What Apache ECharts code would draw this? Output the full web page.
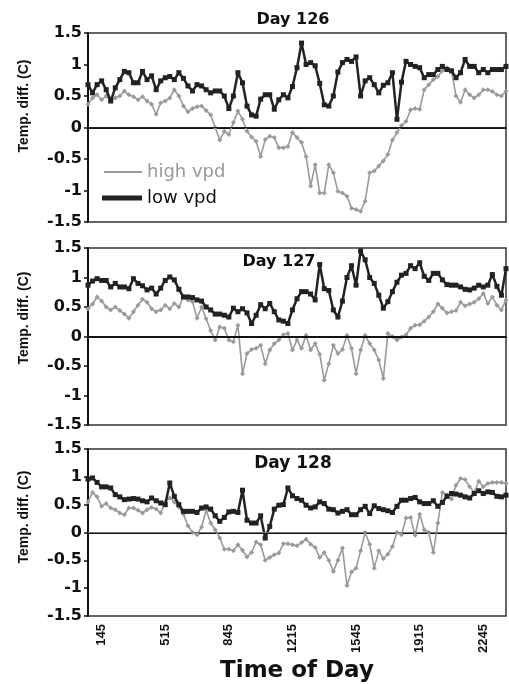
<!DOCTYPE html>
<html>
<head>
<meta charset="utf-8">
<script src="https://cdn.jsdelivr.net/npm/echarts@6/dist/echarts.min.js"></script>
<style>html,body{margin:0;padding:0;background:#fff}#c{width:509px;height:684px}</style>
</head>
<body>
<div id="c"></div>
<script>
var timeCats = ["100","115","130","145","200","215","230","245","300","315","330","345","400","415","430","445","500","515","530","545","600","615","630","645","700","715","730","745","800","815","830","845","900","915","930","945","1000","1015","1030","1045","1100","1115","1130","1145","1200","1215","1230","1245","1300","1315","1330","1345","1400","1415","1430","1445","1500","1515","1530","1545","1600","1615","1630","1645","1700","1715","1730","1745","1800","1815","1830","1845","1900","1915","1930","1945","2000","2015","2030","2045","2100","2115","2130","2145","2200","2215","2230","2245","2300","2315","2330","2345","2400"];
var tickLabels = ["145","515","845","1215","1545","1915","2245"];
var dayTitles = ["Day 126","Day 127","Day 128"];

var day126Low = [0.68,0.55,0.68,0.74,0.6,0.42,0.63,0.76,0.89,0.87,
0.71,0.71,0.89,0.76,0.82,0.6,0.74,0.79,0.81,0.76,
0.87,0.78,0.66,0.58,0.68,0.66,0.6,0.55,0.58,0.58,
0.5,0.3,0.5,0.87,0.71,0.34,0.2,0.18,0.45,0.52,
0.52,0.29,0.44,0.52,0.47,0.65,0.95,1.34,1.0,1.03,
0.98,0.7,0.36,0.34,0.5,0.88,1.03,1.08,1.05,1.12,
0.5,0.74,0.79,0.68,0.55,0.67,0.71,0.87,0.13,0.72,
1.05,1.0,0.97,0.95,0.79,0.84,0.84,0.92,0.97,0.92,
0.9,0.79,0.87,1.08,0.97,0.97,0.87,0.92,0.87,0.92,
0.92,0.92,0.97];
var day126High = [0.37,0.47,0.52,0.44,0.5,0.42,0.47,0.5,0.58,0.52,
0.49,0.44,0.49,0.42,0.37,0.21,0.39,0.42,0.47,0.6,
0.5,0.34,0.25,0.3,0.33,0.34,0.27,0.2,0.0,-0.2,
-0.06,-0.11,0.08,0.26,0.13,-0.06,-0.15,-0.22,-0.46,-0.19,
-0.14,-0.16,-0.32,-0.32,-0.3,-0.08,-0.16,-0.24,-0.46,-0.93,
-0.59,-1.04,-1.04,-0.59,-0.72,-1.01,-1.04,-1.09,-1.28,-1.3,
-1.33,-1.17,-0.72,-0.69,-0.61,-0.53,-0.43,-0.2,-0.08,0.03,
0.1,0.28,0.3,0.29,0.6,0.68,0.76,0.81,0.9,0.95,
0.9,0.5,0.4,0.6,0.52,0.47,0.52,0.6,0.6,0.57,
0.52,0.5,0.58];
var day127Low = [0.87,0.94,0.98,0.95,0.95,0.84,0.9,0.84,0.84,0.81,
0.98,0.9,0.86,0.79,0.82,0.72,0.82,0.95,1.01,0.96,
0.8,0.67,0.67,0.66,0.62,0.6,0.5,0.45,0.38,0.38,
0.36,0.33,0.48,0.42,0.47,0.4,0.22,0.36,0.54,0.47,
0.56,0.42,0.28,0.26,0.22,0.45,0.64,0.76,0.76,0.72,
0.62,1.22,0.81,0.78,0.45,0.33,0.6,1.0,1.2,0.87,
1.45,1.3,1.0,0.9,0.7,0.48,0.59,0.76,0.92,1.04,
1.07,1.2,1.15,1.25,1.02,0.95,1.07,1.07,0.96,0.88,
0.87,0.87,0.84,0.8,0.79,0.82,0.87,0.84,0.87,1.05,
0.85,0.7,1.15];
var day127High = [0.47,0.55,0.67,0.6,0.5,0.45,0.5,0.44,0.38,0.31,
0.42,0.53,0.63,0.58,0.47,0.42,0.45,0.53,0.47,0.56,
0.5,0.67,0.62,0.59,0.31,0.5,0.3,0.1,-0.06,0.16,
0.14,-0.06,-0.09,0.19,-0.63,-0.29,-0.22,-0.2,-0.15,-0.46,
-0.23,-0.12,-0.06,0.03,0.05,-0.23,-0.06,-0.2,0.02,-0.23,
-0.12,-0.3,-0.74,-0.46,-0.15,-0.29,-0.22,0.02,-0.2,-0.63,
-0.23,0.02,-0.12,-0.23,-0.4,-0.71,0.05,0.0,-0.06,-0.01,
0.03,0.14,0.19,0.2,0.26,0.33,0.42,0.55,0.48,0.4,
0.42,0.44,0.58,0.52,0.55,0.58,0.64,0.73,0.56,0.67,
0.53,0.45,0.62];
var day128Low = [0.96,0.98,0.9,0.82,0.82,0.8,0.68,0.64,0.59,0.6,
0.61,0.6,0.57,0.55,0.62,0.57,0.53,0.5,0.89,0.65,
0.5,0.38,0.38,0.38,0.36,0.44,0.46,0.42,0.3,0.2,
0.27,0.37,0.38,0.36,0.76,0.22,0.17,0.17,0.3,-0.1,
0.11,0.42,0.49,0.5,0.8,0.66,0.61,0.58,0.49,0.44,
0.46,0.55,0.52,0.42,0.41,0.35,0.38,0.41,0.32,0.32,
0.41,0.47,0.34,0.48,0.43,0.41,0.39,0.36,0.47,0.58,
0.58,0.61,0.63,0.55,0.52,0.52,0.57,0.47,0.54,0.65,
0.7,0.69,0.67,0.64,0.62,0.7,0.75,0.7,0.73,0.72,
0.65,0.64,0.67];
var day128High = [0.55,0.72,0.64,0.47,0.52,0.44,0.41,0.35,0.32,0.44,
0.44,0.4,0.35,0.41,0.45,0.42,0.35,0.55,0.62,0.55,
0.46,0.33,0.12,0.0,-0.04,0.1,0.4,0.17,0.05,-0.1,
-0.3,-0.3,-0.33,-0.22,-0.32,-0.44,-0.36,-0.17,-0.22,-0.5,
-0.45,-0.4,-0.37,-0.2,-0.2,-0.22,-0.24,-0.18,-0.12,-0.21,
-0.27,-0.45,-0.36,-0.5,-0.7,-0.5,-0.28,-0.95,-0.71,-0.64,
-0.33,0.0,-0.21,-0.64,-0.33,-0.47,-0.39,-0.25,0.0,-0.04,
0.26,0.27,-0.05,0.33,0.05,0.0,-0.36,0.17,0.72,0.68,
0.6,0.85,0.97,0.95,0.82,0.72,0.92,0.82,0.88,0.9,
0.9,0.9,0.88];

var lowSets = [day126Low, day127Low, day128Low];
var highSets = [day126High, day127High, day128High];

var chart = echarts.init(document.getElementById('c'), null, {renderer:'canvas'});
var grids = [
  {left:88, width:418, top:33, height:189},
  {left:88, width:418, top:248, height:177},
  {left:88, width:418, top:449, height:169}
];
var zeroStyles = [
  {color:'#222', width:1},
  {color:'#111', width:2},
  {color:'#777', width:1}
];
var titlePos = [[293,20,16],[279,262,16],[293,464,17]];
var namePos = [106,318,517];

var xAxes = [], yAxes = [], series = [], graphics = [];
for (var k = 0; k < 3; k++) {
  grids[k].show = true;
  grids[k].borderColor = '#333';
  grids[k].borderWidth = 1.5;
  var xa = {
    type:'category', gridIndex:k, data:timeCats, boundaryGap:false,
    axisLine:{show:true, lineStyle:{color:'#111', width:2}},
    axisTick:{show:false},
    splitLine:{show:false},
    axisLabel:{show:k===2, rotate:90, margin:8,
      interval:function(i, v){ return tickLabels.indexOf(v) >= 0; },
      fontFamily:'Liberation Sans', fontWeight:'bold', fontSize:13, color:'#111'}
  };
  if (k === 2) {
    xa.name = 'Time of Day';
    xa.nameLocation = 'middle';
    xa.nameGap = 44;
    xa.nameTextStyle = {fontFamily:'DejaVu Sans', fontWeight:'bold', fontSize:23, color:'#111'};
  }
  xAxes.push(xa);
  yAxes.push({
    type:'value', gridIndex:k, min:-1.5, max:1.5, interval:0.5,
    axisLine:{show:true, lineStyle:{color:'#111', width:2}},
    axisTick:{show:true, length:4, lineStyle:{color:'#111', width:1.5}},
    splitLine:{show:false},
    axisLabel:{fontFamily:'DejaVu Sans', fontWeight:'bold', fontSize:16, color:'#111', margin:6}
  });
  series.push({
    name:'high vpd', type:'line', xAxisIndex:k, yAxisIndex:k, data:highSets[k],
    symbol:'diamond', symbolSize:5, showAllSymbol:true,
    lineStyle:{color:'#9a9a9a', width:1.6}, itemStyle:{color:'#9a9a9a'},
    animation:false, z:2,
    markLine:{silent:true, symbol:'none', label:{show:false}, animation:false,
      data:[{yAxis:0}], lineStyle:{color:zeroStyles[k].color, width:zeroStyles[k].width, type:'solid'}}
  });
  series.push({
    name:'low vpd', type:'line', xAxisIndex:k, yAxisIndex:k, data:lowSets[k],
    symbol:'rect', symbolSize:5, showAllSymbol:true,
    lineStyle:{color:'#222', width:2.5}, itemStyle:{color:'#222'},
    animation:false, z:3
  });
  graphics.push({type:'text', x:titlePos[k][0], y:titlePos[k][1], z:10,
    style:{text:dayTitles[k], font:'bold '+titlePos[k][2]+'px "DejaVu Sans"', fill:'#111',
      align:'center', verticalAlign:'middle', textAlign:'center', textVerticalAlign:'middle'}});
  graphics.push({type:'text', x:24, y:namePos[k], rotation:Math.PI/2, z:10,
    style:{text:'Temp. diff. (C)', font:'bold 14px "Liberation Sans"', fill:'#111',
      align:'center', verticalAlign:'middle', textAlign:'center', textVerticalAlign:'middle'}});
}

chart.setOption({
  backgroundColor:'#fff',
  animation:false,
  grid:grids,
  xAxis:xAxes,
  yAxis:yAxes,
  legend:[
    {data:['high vpd'], left:99, top:158, icon:'rect', itemWidth:38, itemHeight:2, selectedMode:false,
      textStyle:{fontFamily:'DejaVu Sans', fontSize:18, color:'#999'}},
    {data:['low vpd'], left:97, top:184, icon:'rect', itemWidth:40, itemHeight:5, selectedMode:false,
      textStyle:{fontFamily:'DejaVu Sans', fontSize:18, color:'#111'}}
  ],
  graphic:graphics,
  series:series
});
</script>
</body>
</html>
